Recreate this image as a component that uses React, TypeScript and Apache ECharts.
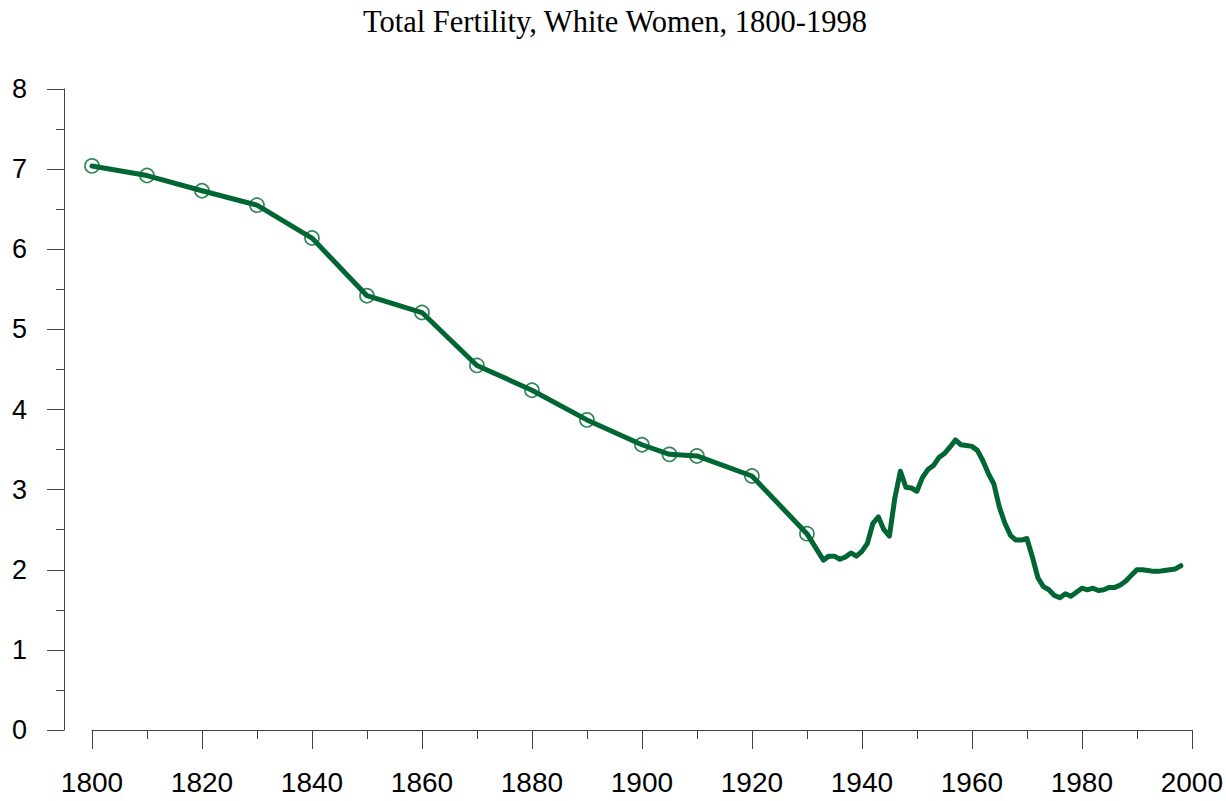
import React, { useEffect, useRef } from "react";
import * as echarts from "echarts";

const TITLE = "Total Fertility, White Women, 1800-1998";

// Historic (decennial) estimates, drawn with hollow circle markers
const historicYears = [1800, 1810, 1820, 1830, 1840, 1850, 1860, 1870, 1880, 1890, 1900, 1905, 1910, 1920, 1930];
const historicValues = [7.04, 6.92, 6.73, 6.55, 6.14, 5.42, 5.21, 4.55, 4.24, 3.87, 3.56, 3.44, 3.42, 3.17, 2.45];

// Annual values 1933-1998
const annualYears = [
  1933, 1934, 1935, 1936, 1937, 1938, 1939, 1940, 1941, 1942, 1943, 1944, 1945, 1946, 1947, 1948, 1949,
  1950, 1951, 1952, 1953, 1954, 1955, 1956, 1957, 1958, 1959, 1960, 1961, 1962, 1963, 1964, 1965, 1966,
  1967, 1968, 1969, 1970, 1971, 1972, 1973, 1974, 1975, 1976, 1977, 1978, 1979, 1980, 1981, 1982, 1983,
  1984, 1985, 1986, 1987, 1988, 1989, 1990, 1991, 1992, 1993, 1994, 1995, 1996, 1997, 1998,
];
const annualValues = [
  2.12, 2.17, 2.17, 2.13, 2.16, 2.21, 2.17, 2.23, 2.33, 2.58, 2.66, 2.5, 2.42, 2.9, 3.23, 3.03, 3.02,
  2.98, 3.15, 3.25, 3.3, 3.4, 3.45, 3.53, 3.62, 3.56, 3.55, 3.54, 3.49, 3.36, 3.2, 3.07, 2.78, 2.58,
  2.43, 2.37, 2.37, 2.39, 2.16, 1.9, 1.79, 1.75, 1.68, 1.65, 1.7, 1.67, 1.72, 1.77, 1.75, 1.77, 1.74,
  1.75, 1.78, 1.78, 1.81, 1.86, 1.93, 2.0, 2.0, 1.99, 1.98, 1.98, 1.99, 2.0, 2.01, 2.05,
];

const X_MIN = 1800;
const X_MAX = 2000;
const X_STEP = 20;
const Y_MIN = 0;
const Y_MAX = 8;
const Y_STEP = 1;

const GREEN = "#006633";
const AXIS = "#404040";

export default function App() {
  const ref = useRef<HTMLDivElement>(null);

  useEffect(() => {
    if (!ref.current) return;
    const chart = echarts.init(ref.current, undefined, { renderer: "svg" });

    const historic = historicYears.map((y, i) => [y, historicValues[i]]);
    const annual = annualYears.map((y, i) => [y, annualValues[i]]);
    const all = historic.concat(annual);

    chart.setOption({
      animation: false,
      backgroundColor: "#ffffff",
      title: {
        text: TITLE,
        left: 358,
        top: 1,
        textStyle: {
          fontFamily: "'Liberation Serif', 'Times New Roman', serif",
          fontSize: 30.5,
          fontWeight: "normal",
          color: "#000000",
        },
      },
      grid: { left: 92, right: 34, top: 89, bottom: 71, containLabel: false },
      xAxis: {
        type: "value",
        min: X_MIN,
        max: X_MAX,
        interval: X_STEP,
        splitLine: { show: false },
        axisLine: { show: true, lineStyle: { color: AXIS, width: 1 } },
        axisTick: { show: true, inside: false, length: 19, lineStyle: { color: AXIS, width: 1 } },
        minorTick: { show: true, splitNumber: 2, length: 9, lineStyle: { color: AXIS, width: 1 } },
        axisLabel: {
          margin: 38,
          fontSize: 28,
          fontFamily: "'Liberation Sans', Arial, sans-serif",
          color: "#000000",
          formatter: (v: number) => String(v),
        },
      },
      yAxis: {
        type: "value",
        min: Y_MIN,
        max: Y_MAX,
        interval: Y_STEP,
        offset: 28,
        splitLine: { show: false },
        axisLine: { show: true, lineStyle: { color: AXIS, width: 1 } },
        axisTick: { show: true, inside: false, length: 17, lineStyle: { color: AXIS, width: 1 } },
        minorTick: { show: true, splitNumber: 2, length: 8, lineStyle: { color: AXIS, width: 1 } },
        axisLabel: {
          margin: 37,
          fontSize: 27,
          fontFamily: "'Liberation Sans', Arial, sans-serif",
          color: "#000000",
          formatter: (v: number) => String(v),
        },
      },
      series: [
        {
          type: "line",
          data: all,
          showSymbol: false,
          symbol: "none",
          lineStyle: { color: GREEN, width: 5, join: "round", cap: "round" },
          z: 2,
        },
        {
          type: "scatter",
          data: historic,
          symbol: "circle",
          symbolSize: 14,
          itemStyle: { color: "transparent", borderColor: GREEN, borderWidth: 1.7 },
          z: 3,
        },
      ],
    });

    return () => chart.dispose();
  }, []);

  return (
    <div
      ref={ref}
      style={{ position: "fixed", left: 0, top: 0, width: 1226, height: 801, background: "#fff" }}
    />
  );
}
